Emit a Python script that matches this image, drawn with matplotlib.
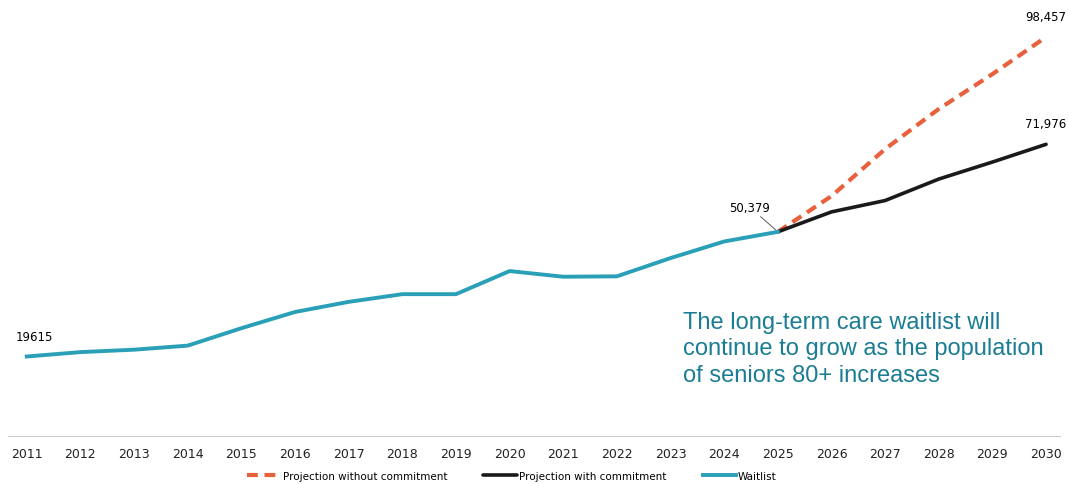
import matplotlib
matplotlib.use("Agg")
import matplotlib.pyplot as plt

# ==========================================================
# DATA
# ==========================================================

years = list(range(2011, 2031))

waitlist_years = list(range(2011, 2026))
waitlist = [19615, 20700, 21300, 22300, 26600, 30600, 33100, 35000, 35000,
            40700, 39300, 39400, 43900, 48000, 50379]

proj_years = list(range(2025, 2031))
proj_with = [50379, 55300, 58100, 63400, 67600, 71976]
proj_without = [50379, 59200, 70800, 80700, 89300, 98457]

note = ("The long-term care waitlist will\n"
        "continue to grow as the population\n"
        "of seniors 80+ increases")

TEAL = "#2aa0b8"
ORANGE = "#e8603c"
BLACK = "#1a1a1a"
NARROW = ["Liberation Sans Narrow", "DejaVu Sans"]

# ==========================================================
# FIGURE
# ==========================================================

fig = plt.figure(figsize=(10.69, 4.85), dpi=100)
ax = fig.add_axes([8 / 1069, 48 / 485, 1052 / 1069, 432 / 485])

ax.plot(proj_years, proj_without, color=ORANGE, linewidth=3,
        dashes=(2.6, 1.6), label="Projection without commitment",
        zorder=2)
ax.plot(proj_years, proj_with, color=BLACK, linewidth=2.6,
        label="Projection with commitment", solid_capstyle="round", zorder=3)
ax.plot(waitlist_years, waitlist, color=TEAL, linewidth=2.8,
        label="Waitlist", solid_joinstyle="round", zorder=4)

ax.set_xlim(2010.65, 2030.26)
ax.set_ylim(0, 106600)

ax.set_yticks([])
ax.set_xticks(years)
ax.set_xticklabels([str(y) for y in years], family=NARROW, fontsize=9)
ax.tick_params(axis="x", length=0, pad=8, colors="#222222")

for side in ["top", "right", "left"]:
    ax.spines[side].set_visible(False)
ax.spines["bottom"].set_color("#cccccc")
ax.spines["bottom"].set_linewidth(0.8)
ax.spines["bottom"].set_linestyle((0, (2, 1)))

# ==========================================================
# LABELS
# ==========================================================

ax.annotate("19615", (years[0], waitlist[0]), xytext=(-8, 10),
            textcoords="offset points", ha="left", va="bottom",
            family=NARROW, fontsize=8.5)
ax.annotate("50,379", (2025, waitlist[-1]), xytext=(-20, 13),
            textcoords="offset points", ha="center", va="bottom",
            family=NARROW, fontsize=8.5,
            arrowprops=dict(arrowstyle="-", color="#444444", lw=0.6,
                            shrinkA=0, shrinkB=1))
ax.annotate("71,976", (2030, proj_with[-1]), xytext=(0, 10),
            textcoords="offset points", ha="center", va="bottom",
            family=NARROW, fontsize=8.5)
ax.annotate("98,457", (2030, proj_without[-1]), xytext=(0, 10),
            textcoords="offset points", ha="center", va="bottom",
            family=NARROW, fontsize=8.5)

fig.text(683 / 1069, 1 - 312 / 485, note, color="#1a7d93", fontsize=17,
         family=["Liberation Sans", "DejaVu Sans"], ha="left", va="top",
         linespacing=1.25)

leg = fig.legend(loc="center", bbox_to_anchor=(512 / 1069, 1 - 477 / 485),
                 ncol=3, frameon=False, handlelength=3.2, handletextpad=0.2,
                 columnspacing=3.5, prop={"family": NARROW, "size": 7.5})

fig.savefig("out.png", dpi=100)
